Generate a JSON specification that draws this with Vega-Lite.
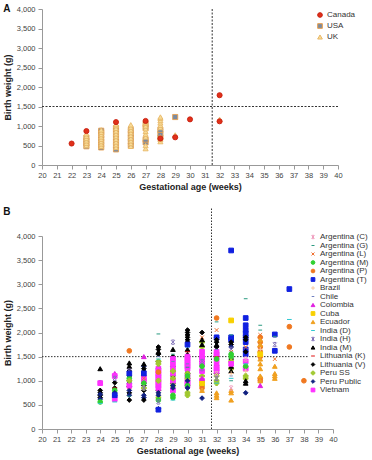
{
"$schema": "https://vega.github.io/schema/vega-lite/v6.json",
"padding": {"left": 3, "top": 4, "right": 0, "bottom": 0},
"spacing": 14,
"config": {
  "font": "Liberation Sans",
  "view": {"stroke": null},
  "axis": {"labelFontSize": 7.5, "labelColor": "#444", "titleFontSize": 9, "titleFontWeight": "bold", "titleColor": "#222", "domainColor": "#999", "tickColor": "#999", "tickSize": 4, "grid": false, "labelPadding": 2, "titlePadding": 4, "labelFlush": false, "labelOverlap": false},
  "legend": {"labelFontSize": 8, "labelColor": "#333", "rowPadding": 0.5, "padding": 0, "symbolStrokeWidth": 1, "title": null, "orient": "none", "labelLimit": 90, "labelOffset": 3},
  "title": {"fontSize": 10, "fontWeight": "bold", "color": "#111", "anchor": "start", "frame": "bounds"}
},
"resolve": {"scale": {"fill": "independent", "stroke": "independent", "shape": "independent", "x": "independent", "y": "independent"}, "legend": {"fill": "independent", "stroke": "independent", "shape": "independent"}},
"vconcat": [
{
  "title": {"text": "A", "offset": -9},
  "width": 296, "height": 156,
  "encoding": {
    "x": {"field": "w", "type": "quantitative", "scale": {"domain": [20, 40], "nice": false}, "axis": {"title": "Gestational age (weeks)", "values": [20,21,22,23,24,25,26,27,28,29,30,31,32,33,34,35,36,37,38,39,40], "format": "d"}},
    "y": {"field": "g", "type": "quantitative", "scale": {"domain": [0, 4000], "nice": false}, "axis": {"title": "Birth weight (g)", "values": [0,500,1000,1500,2000,2500,3000,3500,4000], "format": ",d", "labelPadding": 3}}
  },
  "layer": [
    {"data": {"values": [{"w": 31.5, "g": 0, "g2": 4000}]}, "mark": {"type": "rule", "strokeDash": [2, 1.5], "color": "#333", "strokeWidth": 1}, "encoding": {"y2": {"field": "g2"}}},
    {"data": {"values": [{"w": 20, "w2": 40, "g": 1500}]}, "mark": {"type": "rule", "strokeDash": [2, 1.5], "color": "#333", "strokeWidth": 1}, "encoding": {"x2": {"field": "w2"}}},
    {"data": {"values": [
      {"c":"USA","w":23,"g":480},{"c":"USA","w":23,"g":550},{"c":"USA","w":23,"g":620},{"c":"USA","w":23,"g":700},
      {"c":"USA","w":24,"g":450},{"c":"USA","w":24,"g":520},{"c":"USA","w":24,"g":600},{"c":"USA","w":24,"g":680},{"c":"USA","w":24,"g":760},{"c":"USA","w":24,"g":840},{"c":"USA","w":24,"g":880},
      {"c":"USA","w":25,"g":400},{"c":"USA","w":25,"g":500},{"c":"USA","w":25,"g":600},{"c":"USA","w":25,"g":700},{"c":"USA","w":25,"g":800},{"c":"USA","w":25,"g":900},{"c":"USA","w":25,"g":950},
      {"c":"USA","w":26,"g":500},{"c":"USA","w":26,"g":600},{"c":"USA","w":26,"g":700},{"c":"USA","w":26,"g":800},{"c":"USA","w":26,"g":900},
      {"c":"USA","w":27,"g":580},{"c":"USA","w":27,"g":650},{"c":"USA","w":27,"g":950},{"c":"USA","w":27,"g":1050},
      {"c":"USA","w":28,"g":700},{"c":"USA","w":28,"g":800},{"c":"USA","w":28,"g":900},
      {"c":"USA","w":29,"g":1230},
      {"c":"UK","w":23,"g":500},{"c":"UK","w":23,"g":560},{"c":"UK","w":23,"g":620},{"c":"UK","w":23,"g":680},{"c":"UK","w":23,"g":740},{"c":"UK","w":23,"g":800},
      {"c":"UK","w":24,"g":480},{"c":"UK","w":24,"g":540},{"c":"UK","w":24,"g":600},{"c":"UK","w":24,"g":660},{"c":"UK","w":24,"g":720},{"c":"UK","w":24,"g":780},{"c":"UK","w":24,"g":840},{"c":"UK","w":24,"g":900},
      {"c":"UK","w":25,"g":450},{"c":"UK","w":25,"g":520},{"c":"UK","w":25,"g":590},{"c":"UK","w":25,"g":660},{"c":"UK","w":25,"g":730},{"c":"UK","w":25,"g":800},{"c":"UK","w":25,"g":870},{"c":"UK","w":25,"g":940},{"c":"UK","w":25,"g":1010},{"c":"UK","w":25,"g":1050},
      {"c":"UK","w":26,"g":480},{"c":"UK","w":26,"g":550},{"c":"UK","w":26,"g":620},{"c":"UK","w":26,"g":690},{"c":"UK","w":26,"g":760},{"c":"UK","w":26,"g":830},{"c":"UK","w":26,"g":900},{"c":"UK","w":26,"g":970},{"c":"UK","w":26,"g":1030},
      {"c":"UK","w":27,"g":420},{"c":"UK","w":27,"g":500},{"c":"UK","w":27,"g":720},{"c":"UK","w":27,"g":790},{"c":"UK","w":27,"g":860},{"c":"UK","w":27,"g":930},{"c":"UK","w":27,"g":1000},{"c":"UK","w":27,"g":1070},{"c":"UK","w":27,"g":1100},
      {"c":"UK","w":28,"g":600},{"c":"UK","w":28,"g":660},{"c":"UK","w":28,"g":720},{"c":"UK","w":28,"g":960},{"c":"UK","w":28,"g":1020},{"c":"UK","w":28,"g":1080},{"c":"UK","w":28,"g":1140},{"c":"UK","w":28,"g":1200},{"c":"UK","w":28,"g":1230},
      {"c":"UK","w":29,"g":770},{"c":"UK","w":32,"g":1170},
      {"c":"Canada","w":22,"g":550},{"c":"Canada","w":23,"g":870},{"c":"Canada","w":25,"g":1100},{"c":"Canada","w":27,"g":1130},{"c":"Canada","w":28,"g":680},{"c":"Canada","w":29,"g":710},{"c":"Canada","w":30,"g":1170},{"c":"Canada","w":32,"g":1790},{"c":"Canada","w":32,"g":1120}
    ]},
    "mark": {"type": "point", "filled": true, "size": 26, "strokeWidth": 0.9, "opacity": 1},
    "encoding": {
      "fill": {"field": "c", "type": "nominal", "scale": {"domain": ["Canada", "USA", "UK"], "range": ["#e0301a", "#7a8aa0", "#f8dc98"]}, "legend": {"legendX": 274, "legendY": 2, "rowPadding": 1, "symbolSize": 22}},
      "stroke": {"field": "c", "type": "nominal", "scale": {"domain": ["Canada", "USA", "UK"], "range": ["#c82010", "#e8a050", "#e8b868"]}, "legend": {"legendX": 274, "legendY": 2, "rowPadding": 1, "symbolSize": 22}},
      "shape": {"field": "c", "type": "nominal", "scale": {"domain": ["Canada", "USA", "UK"], "range": ["circle", "square", "triangle-up"]}, "legend": {"legendX": 274, "legendY": 2, "rowPadding": 1, "symbolSize": 22}}
    }}
  ]
},
{
  "title": {"text": "B", "offset": -9},
  "width": 291, "height": 193,
  "encoding": {
    "x": {"field": "w", "type": "quantitative", "scale": {"domain": [20, 40], "nice": false}, "axis": {"title": "Gestational age (weeks)", "values": [20,21,22,23,24,25,26,27,28,29,30,31,32,33,34,35,36,37,38,39,40], "format": "d"}},
    "y": {"field": "g", "type": "quantitative", "scale": {"domain": [0, 4000], "nice": false}, "axis": {"title": "Birth weight (g)", "values": [0,500,1000,1500,2000,2500,3000,3500,4000], "format": ",d", "labelPadding": 3}}
  },
  "layer": [
    {"data": {"values": [{"w": 31.65, "g": 0, "g2": 4580}]}, "mark": {"type": "rule", "strokeDash": [1.5, 1.5], "color": "#333", "strokeWidth": 1, "clip": false}, "encoding": {"y2": {"field": "g2"}}},
    {"data": {"values": [{"w": 20, "w2": 40, "g": 1500}]}, "mark": {"type": "rule", "strokeDash": [1.5, 1.5], "color": "#333", "strokeWidth": 1}, "encoding": {"x2": {"field": "w2"}}},
    {"data": {"values": [
      {"s":"India (M)","w":24,"g":1250},{"s":"India (H)","w":24,"g":960},{"s":"Vietnam","w":24,"g":950},{"s":"Lithuania (V)","w":24,"g":800},{"s":"Lithuania (V)","w":24,"g":750},{"s":"Lithuania (V)","w":24,"g":700},{"s":"Lithuania (V)","w":24,"g":650},{"s":"Peru Public","w":24,"g":720},{"s":"Peru Public","w":24,"g":620},{"s":"Argentina (M)","w":24,"g":560},{"s":"India (D)","w":24,"g":530},
      {"s":"Colombia","w":25,"g":1150},{"s":"Vietnam","w":25,"g":1100},{"s":"Lithuania (V)","w":25,"g":960},{"s":"Lithuania (V)","w":25,"g":850},{"s":"Lithuania (K)","w":25,"g":850},{"s":"Argentina (M)","w":25,"g":800},{"s":"Peru Public","w":25,"g":700},{"s":"Peru Public","w":25,"g":750},{"s":"Vietnam","w":25,"g":620},{"s":"India (D)","w":25,"g":560},{"s":"India (H)","w":25,"g":1050},{"s":"Argentina (T)","w":25,"g":700},
      {"s":"Argentina (P)","w":26,"g":1620},{"s":"India (M)","w":26,"g":1370},{"s":"India (M)","w":26,"g":1300},{"s":"Lithuania (V)","w":26,"g":1200},{"s":"Lithuania (V)","w":26,"g":1100},{"s":"Lithuania (V)","w":26,"g":1000},{"s":"Lithuania (V)","w":26,"g":880},{"s":"Lithuania (V)","w":26,"g":750},{"s":"Lithuania (V)","w":26,"g":600},{"s":"India (H)","w":26,"g":1200},{"s":"Argentina (M)","w":26,"g":1050},{"s":"Lithuania (K)","w":26,"g":850},{"s":"Peru Public","w":26,"g":950},{"s":"Peru Public","w":26,"g":800},{"s":"Peru Public","w":26,"g":700},{"s":"Vietnam","w":26,"g":900},{"s":"Argentina (G)","w":26,"g":680},{"s":"Peru SS","w":26,"g":1000},{"s":"Argentina (T)","w":26,"g":1150},
      {"s":"Colombia","w":27,"g":1500},{"s":"Peru Public","w":27,"g":1300},{"s":"Peru Public","w":27,"g":1200},{"s":"Peru Public","w":27,"g":950},{"s":"Peru Public","w":27,"g":700},{"s":"Peru Public","w":27,"g":650},{"s":"Lithuania (V)","w":27,"g":1250},{"s":"Lithuania (V)","w":27,"g":1100},{"s":"Lithuania (V)","w":27,"g":900},{"s":"Lithuania (V)","w":27,"g":800},{"s":"Lithuania (V)","w":27,"g":600},{"s":"Vietnam","w":27,"g":1050},{"s":"Vietnam","w":27,"g":1000},{"s":"Argentina (M)","w":27,"g":950},{"s":"Peru SS","w":27,"g":850},{"s":"Argentina (L)","w":27,"g":1050},{"s":"India (M)","w":27,"g":1350},{"s":"India (H)","w":27,"g":850},{"s":"Argentina (T)","w":27,"g":1150},
      {"s":"Argentina (G)","w":28,"g":1970},{"s":"Lithuania (V)","w":28,"g":1700},{"s":"Lithuania (V)","w":28,"g":1650},{"s":"Lithuania (V)","w":28,"g":1550},{"s":"Lithuania (V)","w":28,"g":1400},{"s":"Lithuania (V)","w":28,"g":1100},{"s":"Lithuania (V)","w":28,"g":800},{"s":"India (M)","w":28,"g":1600},{"s":"India (M)","w":28,"g":1300},{"s":"Vietnam","w":28,"g":1250},{"s":"Vietnam","w":28,"g":1200},{"s":"Vietnam","w":28,"g":1150},{"s":"Vietnam","w":28,"g":1100},{"s":"Vietnam","w":28,"g":1050},{"s":"Vietnam","w":28,"g":1000},{"s":"Vietnam","w":28,"g":950},{"s":"Vietnam","w":28,"g":900},{"s":"Vietnam","w":28,"g":850},{"s":"Peru SS","w":28,"g":1400},{"s":"Peru SS","w":28,"g":1350},{"s":"Peru SS","w":28,"g":1000},{"s":"Peru SS","w":28,"g":650},{"s":"Peru Public","w":28,"g":750},{"s":"Peru Public","w":28,"g":700},{"s":"Peru Public","w":28,"g":420},{"s":"Argentina (M)","w":28,"g":600},{"s":"India (H)","w":28,"g":560},{"s":"Argentina (T)","w":28,"g":400},{"s":"Chile","w":28,"g":1500},{"s":"India (D)","w":28,"g":1450},{"s":"Argentina (P)","w":28,"g":1180},
      {"s":"India (H)","w":29,"g":1800},{"s":"India (M)","w":29,"g":1650},{"s":"Lithuania (V)","w":29,"g":1500},{"s":"Lithuania (V)","w":29,"g":1300},{"s":"Lithuania (V)","w":29,"g":1200},{"s":"Lithuania (V)","w":29,"g":1100},{"s":"Lithuania (V)","w":29,"g":950},{"s":"Vietnam","w":29,"g":1450},{"s":"Vietnam","w":29,"g":1350},{"s":"Vietnam","w":29,"g":1250},{"s":"Vietnam","w":29,"g":1150},{"s":"Vietnam","w":29,"g":1000},{"s":"Vietnam","w":29,"g":800},{"s":"Argentina (M)","w":29,"g":700},{"s":"Argentina (M)","w":29,"g":650},{"s":"Peru SS","w":29,"g":1200},{"s":"Peru SS","w":29,"g":1050},{"s":"Peru SS","w":29,"g":900},{"s":"Peru Public","w":29,"g":850},{"s":"Peru Public","w":29,"g":900},{"s":"India (D)","w":29,"g":600},{"s":"Chile","w":29,"g":1400},{"s":"Argentina (G)","w":29,"g":1550},
      {"s":"Lithuania (V)","w":30,"g":2050},{"s":"Lithuania (V)","w":30,"g":2000},{"s":"Lithuania (V)","w":30,"g":1950},{"s":"Lithuania (V)","w":30,"g":1900},{"s":"Lithuania (V)","w":30,"g":1850},{"s":"Lithuania (V)","w":30,"g":1800},{"s":"Lithuania (V)","w":30,"g":1150},{"s":"Lithuania (V)","w":30,"g":1050},{"s":"India (M)","w":30,"g":1650},{"s":"India (M)","w":30,"g":1550},{"s":"India (M)","w":30,"g":1200},{"s":"Lithuania (K)","w":30,"g":1600},{"s":"Vietnam","w":30,"g":1500},{"s":"Vietnam","w":30,"g":1450},{"s":"Vietnam","w":30,"g":1400},{"s":"Vietnam","w":30,"g":1350},{"s":"Vietnam","w":30,"g":1300},{"s":"Vietnam","w":30,"g":1250},{"s":"Vietnam","w":30,"g":1100},{"s":"Vietnam","w":30,"g":1000},{"s":"Vietnam","w":30,"g":950},{"s":"Vietnam","w":30,"g":900},{"s":"Peru SS","w":30,"g":1050},{"s":"Peru SS","w":30,"g":750},{"s":"Peru SS","w":30,"g":700},{"s":"Peru SS","w":30,"g":1150},{"s":"Argentina (M)","w":30,"g":1100},{"s":"Argentina (M)","w":30,"g":900},{"s":"Peru Public","w":30,"g":1000},{"s":"Peru Public","w":30,"g":850},{"s":"India (D)","w":30,"g":1700},{"s":"Argentina (G)","w":30,"g":1280},{"s":"Argentina (L)","w":30,"g":1750},{"s":"Chile","w":30,"g":1350},{"s":"Argentina (T)","w":30,"g":1750},
      {"s":"Lithuania (V)","w":31,"g":2000},{"s":"Lithuania (V)","w":31,"g":1500},{"s":"Lithuania (V)","w":31,"g":1400},{"s":"Argentina (L)","w":31,"g":1900},{"s":"Peru SS","w":31,"g":1800},{"s":"Peru SS","w":31,"g":1700},{"s":"Peru SS","w":31,"g":1100},{"s":"Peru SS","w":31,"g":900},{"s":"Vietnam","w":31,"g":1600},{"s":"Vietnam","w":31,"g":1500},{"s":"Vietnam","w":31,"g":1450},{"s":"Vietnam","w":31,"g":1350},{"s":"Vietnam","w":31,"g":1200},{"s":"Vietnam","w":31,"g":1000},{"s":"India (H)","w":31,"g":1400},{"s":"India (H)","w":31,"g":1250},{"s":"Argentina (M)","w":31,"g":1300},{"s":"Argentina (P)","w":31,"g":850},{"s":"Brazil","w":31,"g":800},{"s":"Ecuador","w":31,"g":800},{"s":"Peru Public","w":31,"g":640},{"s":"India (M)","w":31,"g":1850},{"s":"India (M)","w":31,"g":1750},{"s":"Cuba","w":31,"g":950},{"s":"Colombia","w":31,"g":1050},
      {"s":"Argentina (P)","w":32,"g":2300},{"s":"Argentina (G)","w":32,"g":2220},{"s":"Argentina (L)","w":32,"g":2050},{"s":"Peru Public","w":32,"g":1900},{"s":"Argentina (T)","w":32,"g":1900},{"s":"Lithuania (V)","w":32,"g":1850},{"s":"Lithuania (V)","w":32,"g":1800},{"s":"Lithuania (V)","w":32,"g":1700},{"s":"Lithuania (V)","w":32,"g":1150},{"s":"India (M)","w":32,"g":1750},{"s":"India (M)","w":32,"g":1350},{"s":"Vietnam","w":32,"g":1600},{"s":"Vietnam","w":32,"g":1550},{"s":"Vietnam","w":32,"g":1500},{"s":"Vietnam","w":32,"g":1400},{"s":"Vietnam","w":32,"g":1300},{"s":"Vietnam","w":32,"g":1250},{"s":"Vietnam","w":32,"g":1200},{"s":"Lithuania (K)","w":32,"g":1500},{"s":"Peru SS","w":32,"g":1100},{"s":"Peru SS","w":32,"g":1000},{"s":"Peru SS","w":32,"g":950},{"s":"Ecuador","w":32,"g":750},{"s":"Ecuador","w":32,"g":700},{"s":"Ecuador","w":32,"g":650},{"s":"Argentina (C)","w":32,"g":1150},{"s":"India (D)","w":32,"g":950},{"s":"Chile","w":32,"g":1650},{"s":"Argentina (M)","w":32,"g":1450},{"s":"India (H)","w":32,"g":1050},
      {"s":"Argentina (T)","w":33,"g":3700},{"s":"Argentina (T)","w":33,"g":1900},{"s":"Argentina (T)","w":33,"g":1850},{"s":"Cuba","w":33,"g":2250},{"s":"Argentina (G)","w":33,"g":1950},{"s":"Argentina (G)","w":33,"g":1000},{"s":"Lithuania (V)","w":33,"g":1800},{"s":"Lithuania (V)","w":33,"g":1750},{"s":"Lithuania (V)","w":33,"g":1450},{"s":"Peru Public","w":33,"g":1700},{"s":"India (H)","w":33,"g":1650},{"s":"Argentina (L)","w":33,"g":1600},{"s":"Argentina (M)","w":33,"g":1550},{"s":"Argentina (M)","w":33,"g":1500},{"s":"Peru SS","w":33,"g":1400},{"s":"Peru SS","w":33,"g":1250},{"s":"India (M)","w":33,"g":1300},{"s":"India (M)","w":33,"g":1200},{"s":"Ecuador","w":33,"g":800},{"s":"Ecuador","w":33,"g":750},{"s":"Ecuador","w":33,"g":600},{"s":"Argentina (C)","w":33,"g":850},{"s":"Vietnam","w":33,"g":1350},{"s":"Chile","w":33,"g":1100},{"s":"Brazil","w":33,"g":1150},{"s":"India (D)","w":33,"g":1050},
      {"s":"Argentina (T)","w":34,"g":2300},{"s":"Argentina (T)","w":34,"g":2150},{"s":"Argentina (T)","w":34,"g":2050},{"s":"Argentina (T)","w":34,"g":1980},{"s":"Argentina (T)","w":34,"g":1900},{"s":"Argentina (T)","w":34,"g":1800},{"s":"Argentina (T)","w":34,"g":1650},{"s":"Argentina (T)","w":34,"g":1550},{"s":"Argentina (G)","w":34,"g":2700},{"s":"Lithuania (V)","w":34,"g":1900},{"s":"Lithuania (V)","w":34,"g":1850},{"s":"Lithuania (V)","w":34,"g":1600},{"s":"Argentina (L)","w":34,"g":1700},{"s":"Vietnam","w":34,"g":1400},{"s":"Vietnam","w":34,"g":1250},{"s":"Argentina (M)","w":34,"g":1300},{"s":"Peru SS","w":34,"g":1100},{"s":"Peru SS","w":34,"g":1050},{"s":"India (M)","w":34,"g":1000},{"s":"India (M)","w":34,"g":950},{"s":"Peru Public","w":34,"g":750},{"s":"Argentina (C)","w":34,"g":1450},{"s":"Brazil","w":34,"g":1200},{"s":"India (D)","w":34,"g":1350},
      {"s":"Argentina (G)","w":35,"g":2150},{"s":"Argentina (G)","w":35,"g":2050},{"s":"Argentina (L)","w":35,"g":1950},{"s":"Argentina (P)","w":35,"g":1900},{"s":"Argentina (P)","w":35,"g":1800},{"s":"Argentina (P)","w":35,"g":1700},{"s":"Argentina (P)","w":35,"g":1600},{"s":"Argentina (P)","w":35,"g":1500},{"s":"Argentina (P)","w":35,"g":1050},{"s":"Argentina (P)","w":35,"g":1000},{"s":"Ecuador","w":35,"g":1850},{"s":"Ecuador","w":35,"g":1750},{"s":"Ecuador","w":35,"g":1450},{"s":"Ecuador","w":35,"g":1350},{"s":"Ecuador","w":35,"g":1250},{"s":"Ecuador","w":35,"g":1100},{"s":"Ecuador","w":35,"g":1000},{"s":"Colombia","w":35,"g":900},{"s":"Brazil","w":35,"g":1650},{"s":"Cuba","w":35,"g":1550},
      {"s":"Argentina (T)","w":36,"g":1960},{"s":"Argentina (T)","w":36,"g":1620},{"s":"India (H)","w":36,"g":1750},{"s":"Argentina (L)","w":36,"g":1450},{"s":"Ecuador","w":36,"g":1300},{"s":"Ecuador","w":36,"g":1150},{"s":"Ecuador","w":36,"g":1100},{"s":"Ecuador","w":36,"g":1050},{"s":"Chile","w":36,"g":1900},{"s":"Argentina (G)","w":36,"g":1920},
      {"s":"Argentina (T)","w":37,"g":2900},{"s":"India (D)","w":37,"g":2270},{"s":"Argentina (P)","w":37,"g":2120},{"s":"Argentina (P)","w":37,"g":1700},
      {"s":"Argentina (P)","w":38,"g":1000}
    ]},
    "mark": {"type": "point", "filled": true, "size": 22, "strokeWidth": 1, "opacity": 1},
    "encoding": {
      "fill": {"field": "s", "type": "nominal", "scale": {"domain": ["Argentina (C)","Argentina (G)","Argentina (L)","Argentina (M)","Argentina (P)","Argentina (T)","Brazil","Chile","Colombia","Cuba","Ecuador","India (D)","India (H)","India (M)","Lithuania (K)","Lithuania (V)","Peru SS","Peru Public","Vietnam"], "range": ["#f0a0c0","#2a9a80","#f07030","#30d030","#f07820","#1020e0","#f8c8a0","#7080c0","#e020e0","#f8d000","#f0a020","#30c8d0","#8070b8","#000000","#e01010","#000000","#a0c830","#102080","#ff30ff"]}, "legend": {"legendX": 267, "legendY": -3, "symbolSize": 14, "fillColor": "white"}},
      "stroke": {"field": "s", "type": "nominal", "scale": {"domain": ["Argentina (C)","Argentina (G)","Argentina (L)","Argentina (M)","Argentina (P)","Argentina (T)","Brazil","Chile","Colombia","Cuba","Ecuador","India (D)","India (H)","India (M)","Lithuania (K)","Lithuania (V)","Peru SS","Peru Public","Vietnam"], "range": ["#f0a0c0","#2a9a80","#f07030","#30d030","#f07820","#1020e0","#f8c8a0","#7080c0","#e020e0","#f8d000","#f0a020","#30c8d0","#8070b8","#000000","#e01010","#000000","#a0c830","#102080","#ff30ff"]}, "legend": {"legendX": 267, "legendY": -3, "symbolSize": 14, "fillColor": "white"}},
      "shape": {"field": "s", "type": "nominal", "scale": {"domain": ["Argentina (C)","Argentina (G)","Argentina (L)","Argentina (M)","Argentina (P)","Argentina (T)","Brazil","Chile","Colombia","Cuba","Ecuador","India (D)","India (H)","India (M)","Lithuania (K)","Lithuania (V)","Peru SS","Peru Public","Vietnam"], "range": ["M-0.8,-0.8L0.8,0.8M0.8,-0.8L-0.8,0.8M-0.6,-0.9L0.6,-0.9M-0.6,0.9L0.6,0.9","M-0.8,0L0.8,0","M-0.8,-0.8L0.8,0.8M0.8,-0.8L-0.8,0.8","circle","circle","square","M-1,0L1,0M0,-1L0,1","M-0.7,0L0.7,0","triangle-up","square","triangle-up","M-1,0L1,0","M-0.8,-0.8L0.8,0.8M0.8,-0.8L-0.8,0.8M-0.6,-0.9L0.6,-0.9M-0.6,0.9L0.6,0.9","triangle-up","M-1,0L1,0","diamond","cross","diamond","square"]}, "legend": {"legendX": 267, "legendY": -3, "symbolSize": 14, "fillColor": "white"}}
    }}
  ]
}
]
}
